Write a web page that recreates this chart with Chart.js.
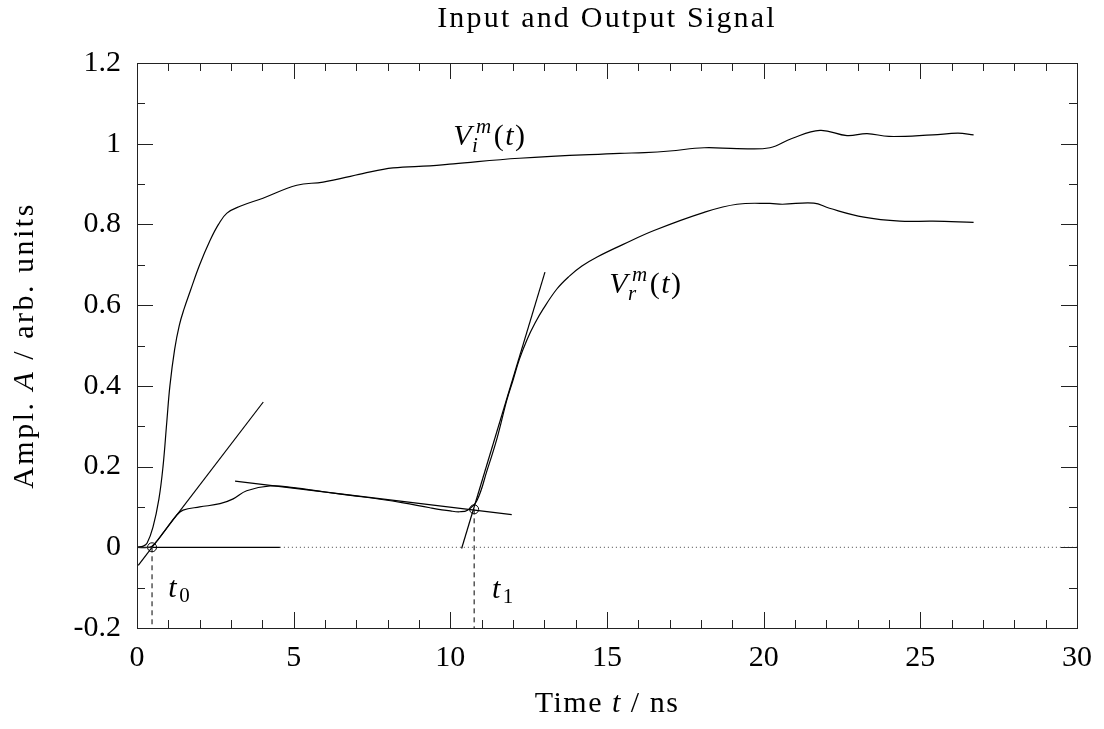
<!DOCTYPE html>
<html>
<head>
<meta charset="utf-8">
<script src="https://cdn.jsdelivr.net/npm/chart.js@4.4.1/dist/chart.umd.min.js"></script>
<style>
  html, body { margin: 0; padding: 0; background: #fff; }
  #chart { display: block; }
</style>
</head>
<body>
<canvas id="chart" width="1104" height="729"></canvas>
<script>
// input signal V_i (time in ns, amplitude)
const inputTime = [0, 0.2, 0.32, 0.51, 0.7, 0.83, 0.95, 1.05, 1.2, 1.35, 1.5, 1.7, 2.0, 2.33, 2.6, 2.87, 3.29, 4.02, 5.1, 5.94, 7.2, 8.17, 9.35, 10.1, 12.2, 15.4, 16.2, 17.0, 18.1, 19.15, 20.2, 20.9, 21.8, 22.66, 23.3, 24.0, 25.4, 26.2, 26.7];
const inputAmp = [0, 0.003, 0.01, 0.05, 0.12, 0.2, 0.31, 0.4, 0.49, 0.55, 0.59, 0.635, 0.7, 0.76, 0.8, 0.828, 0.845, 0.865, 0.897, 0.905, 0.926, 0.94, 0.945, 0.95, 0.964, 0.976, 0.978, 0.982, 0.99, 0.988, 0.99, 1.013, 1.033, 1.02, 1.025, 1.018, 1.022, 1.026, 1.022];

// output signal V_r
const outputTime = [0, 0.4, 0.6, 0.83, 1.27, 1.47, 2.0, 2.65, 3.07, 3.5, 4.25, 5.0, 6.0, 7.0, 7.76, 8.5, 9.35, 10.0, 10.3, 10.55, 10.85, 11.17, 11.49, 11.8, 12.0, 12.2, 12.45, 12.7, 12.96, 13.4, 13.8, 14.2, 14.7, 15.5, 16.5, 18.1, 19.15, 20.2, 20.6, 21.6, 22.1, 23.2, 24.35, 25.4, 26.7];
const outputAmp = [0, 0, 0.012, 0.035, 0.08, 0.092, 0.1, 0.108, 0.12, 0.14, 0.152, 0.148, 0.137, 0.127, 0.119, 0.11, 0.098, 0.09, 0.088, 0.092, 0.116, 0.19, 0.27, 0.364, 0.414, 0.465, 0.515, 0.555, 0.59, 0.64, 0.672, 0.697, 0.72, 0.75, 0.785, 0.83, 0.85, 0.852, 0.85, 0.853, 0.84, 0.818, 0.808, 0.808, 0.805];

// tangent lines (end points)
const tangent0Time = [0.04, 4.03];
const tangent0Amp = [-0.045, 0.36];
const plateauTime = [3.13, 11.96];
const plateauAmp = [0.164, 0.081];
const tangent1Time = [10.36, 13.02];
const tangent1Amp = [-0.003, 0.682];

// zero base line: solid part then dotted part
const baseSolidTime = [0, 4.56];
const baseDotTime = [4.56, 30];

// the two onset points
const onsetTime = [0.48, 10.76];
const onsetAmp = [0, 0.094];

// axes
const xMin = 0, xMax = 30, xStep = 5, xMinor = 1;
const yMin = -0.2, yMax = 1.2, yStep = 0.2, yMinor = 0.1;

const FONT = '"Liberation Serif", "DejaVu Serif", serif';
const FS = 30;
const SS = 21;

function pts(xs, ys) {
    return xs.map((x, i) => ({ x: x, y: ys[i] }));
}

function line(data, extra) {
    return Object.assign({
        data: data,
        borderColor: "#000",
        borderWidth: 1.2,
        pointRadius: 0,
        fill: false,
        tension: 0
    }, extra || {});
}

// draw text made of parts (italic, sub/superscripts)
function drawParts(ctx, parts, x, y, spacing) {
    const startX = x;
    let prevStart = x;
    ctx.letterSpacing = (spacing || 0) + "px";
    for (const p of parts) {
        ctx.font = (p.it ? "italic " : "") + (p.s || FS) + "px " + FONT;
        const px = (p.back ? prevStart : x) + (p.dx || 0);
        if (!p.back) prevStart = x;
        ctx.fillText(p.t, px, y + (p.dy || 0));
        const end = px + ctx.measureText(p.t).width;
        x = p.back ? Math.max(x, end) : end;
    }
    ctx.letterSpacing = "0px";
    return x - startX;
}

function partsWidth(ctx, parts, spacing) {
    ctx.save();
    ctx.globalAlpha = 0;
    const w = drawParts(ctx, parts, 0, -1000, spacing);
    ctx.restore();
    return w;
}

const labelVi = [{ t: "V", it: true }, { t: "m", it: true, s: SS, dy: -12, dx: 3 }, { t: "i", it: true, s: SS, dy: 7, back: true, dx: -1 }, { t: "(", dx: 1 }, { t: "t", it: true }, { t: ")" }];
const labelVr = [{ t: "V", it: true }, { t: "m", it: true, s: SS, dy: -12, dx: 3 }, { t: "r", it: true, s: SS, dy: 7, back: true, dx: -1 }, { t: "(", dx: 1 }, { t: "t", it: true }, { t: ")" }];
const labelT0 = [{ t: "t", it: true }, { t: "0", s: SS, dy: 5, dx: 1 }];
const labelT1 = [{ t: "t", it: true }, { t: "1", s: SS, dy: 5, dx: 1 }];

// label anchors in data units (left edge, baseline)
const labelAnchors = [
    { parts: labelVi, x: 10.09, y: 0.997 },
    { parts: labelVr, x: 15.07, y: 0.63 },
    { parts: labelT0, x: 1.0, y: -0.124 },
    { parts: labelT1, x: 11.33, y: -0.126 }
];

const decorations = {
    id: "decorations",
    afterDraw(chart) {
        const ctx = chart.ctx;
        const a = chart.chartArea;
        const xs = chart.scales.x;
        const ys = chart.scales.y;
        ctx.save();
        ctx.strokeStyle = "#222";
        ctx.lineWidth = 1;

        // inward ticks on all four sides
        ctx.beginPath();
        for (let v = xMin; v <= xMax + 1e-9; v += xMinor) {
            const px = Math.round(xs.getPixelForValue(v)) + 0.5;
            const len = (Math.round(v) % xStep === 0) ? 16 : 8;
            ctx.moveTo(px, a.bottom); ctx.lineTo(px, a.bottom - len);
            ctx.moveTo(px, a.top); ctx.lineTo(px, a.top + len);
        }
        for (let i = 0; i <= Math.round((yMax - yMin) / yMinor); i++) {
            const v = yMin + i * yMinor;
            const py = Math.round(ys.getPixelForValue(v)) + 0.5;
            const len = (i % 2 === 0) ? 16 : 8;
            ctx.moveTo(a.left, py); ctx.lineTo(a.left + len, py);
            ctx.moveTo(a.right, py); ctx.lineTo(a.right - len, py);
        }
        ctx.stroke();

        // frame
        ctx.strokeRect(Math.round(a.left) + 0.5, Math.round(a.top) + 0.5,
            Math.round(a.right - a.left), Math.round(a.bottom - a.top));

        // title and axis titles
        ctx.fillStyle = "#000";
        ctx.textBaseline = "alphabetic";
        const title = [{ t: "Input and Output Signal" }];
        const cx = (a.left + a.right) / 2;
        drawParts(ctx, title, cx - partsWidth(ctx, title, 2.2) / 2, 27, 2.2);

        const xTitle = [{ t: "Time " }, { t: "t", it: true }, { t: " / ns" }];
        drawParts(ctx, xTitle, cx - partsWidth(ctx, xTitle, 1.5) / 2, 712, 1.5);

        const yTitle = [{ t: "Ampl. " }, { t: "A", it: true }, { t: " / arb. units" }];
        const cy = (a.top + a.bottom) / 2;
        ctx.save();
        ctx.translate(33, cy);
        ctx.rotate(-Math.PI / 2);
        drawParts(ctx, yTitle, -partsWidth(ctx, yTitle, 2.5) / 2, 0, 2.5);
        ctx.restore();

        // curve labels
        for (const l of labelAnchors) {
            drawParts(ctx, l.parts, xs.getPixelForValue(l.x), ys.getPixelForValue(l.y), 1.5);
        }
        ctx.restore();
    }
};

const ctx = document.getElementById("chart").getContext("2d");

new Chart(ctx, {
    type: "line",
    data: {
        datasets: [
            line(pts(inputTime, inputAmp), { tension: 0.4 }),
            line(pts(outputTime, outputAmp), { tension: 0.4 }),
            line(pts(tangent0Time, tangent0Amp)),
            line(pts(plateauTime, plateauAmp)),
            line(pts(tangent1Time, tangent1Amp)),
            line(pts(baseSolidTime, [0, 0])),
            line(pts(baseDotTime, [0, 0]), { borderDash: [1, 3], borderWidth: 1, borderColor: "#444" }),
            line(pts([onsetTime[0], onsetTime[0]], [onsetAmp[0], yMin]), { borderDash: [5, 4], borderWidth: 1 }),
            line(pts([onsetTime[1], onsetTime[1]], [onsetAmp[1], yMin]), { borderDash: [5, 4], borderWidth: 1 }),
            {
                type: "scatter",
                data: pts(onsetTime, onsetAmp),
                pointStyle: "circle",
                pointRadius: 4.5,
                pointBorderColor: "#000",
                pointBackgroundColor: "rgba(0,0,0,0)",
                pointBorderWidth: 1,
                showLine: false
            }
        ]
    },
    options: {
        responsive: false,
        animation: false,
        events: [],
        layout: { padding: { top: 63, right: 27, left: 0, bottom: 0 } },
        plugins: {
            legend: { display: false },
            tooltip: { enabled: false },
            title: { display: false }
        },
        scales: {
            x: {
                type: "linear",
                min: xMin,
                max: xMax,
                grid: { display: false, drawTicks: false },
                border: { display: false },
                ticks: {
                    stepSize: xStep,
                    color: "#000",
                    padding: 12,
                    maxRotation: 0,
                    font: { family: FONT, size: FS }
                },
                afterFit(scale) {
                    scale.height = 101;
                    scale.paddingLeft = 0;
                    scale.paddingRight = 0;
                }
            },
            y: {
                type: "linear",
                min: yMin,
                max: yMax,
                grid: { display: false, drawTicks: false },
                border: { display: false },
                ticks: {
                    stepSize: yStep,
                    color: "#000",
                    padding: 16,
                    font: { family: FONT, size: FS },
                    callback: (v) => String(Number(v.toFixed(1)))
                },
                afterFit(scale) {
                    scale.width = 137;
                    scale.paddingTop = 0;
                    scale.paddingBottom = 0;
                }
            }
        }
    },
    plugins: [decorations]
});
</script>
</body>
</html>
